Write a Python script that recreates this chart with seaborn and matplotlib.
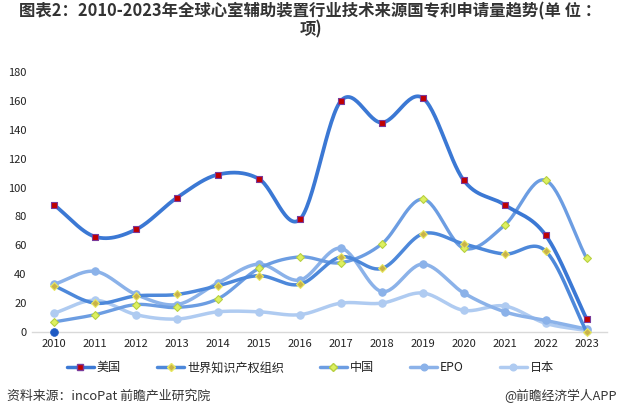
import numpy as np
import pandas as pd
import matplotlib
matplotlib.use("Agg")
import matplotlib.pyplot as plt
from matplotlib.lines import Line2D
import seaborn as sns

years = list(range(2010, 2024))
usa = [88, 66, 71, 93, 109, 106, 78, 160, 145, 162, 105, 88, 67, 9]
wipo = [32, 20, 25, 26, 32, 39, 33, 52, 44, 68, 61, 54, 56, 0]
china = [7, 12, 19, 17, 23, 44, 52, 48, 61, 92, 58, 74, 105, 51]
epo = [33, 42, 26, 19, 34, 47, 36, 58, 28, 47, 27, 14, 8, 2]
japan = [13, 22, 12, 9, 14, 14, 12, 20, 20, 27, 15, 18, 6, 1]
series_names = ["美国", "世界知识产权组织", "中国", "EPO", "日本"]
extra_year = [2010]
extra_value = [0]
y_ticks = [0, 20, 40, 60, 80, 100, 120, 140, 160, 180]

title = "图表2：2010-2023年全球心室辅助装置行业技术来源国专利申请量趋势(单 位 ：\n项)"
source = "资料来源：incoPat 前瞻产业研究院"
credit = "@前瞻经济学人APP"

sns.set_theme(style="white")
plt.rcParams["font.family"] = ["Noto Sans CJK SC", "DejaVu Sans"]


def smooth(xs, ys, n=30):
    xs = np.asarray(xs, float)
    ys = np.asarray(ys, float)
    P = np.column_stack([xs, ys])
    m = np.zeros_like(P)
    m[1:-1] = (P[2:] - P[:-2]) / 2.0
    m[0] = P[1] - P[0]
    m[-1] = P[-1] - P[-2]
    out = []
    t = np.linspace(0, 1, n, endpoint=False)[:, None]
    h00 = 2 * t**3 - 3 * t**2 + 1
    h10 = t**3 - 2 * t**2 + t
    h01 = -2 * t**3 + 3 * t**2
    h11 = t**3 - t**2
    for i in range(len(P) - 1):
        seg = h00 * P[i] + h10 * m[i] + h01 * P[i + 1] + h11 * m[i + 1]
        out.append(seg)
    out.append(P[-1:])
    out = np.vstack(out)
    return out[:, 0], out[:, 1]


values = [usa, wipo, china, epo, japan]
line_colors = ["#3B78D4", "#4D88DA", "#6C9DE2", "#8BB2E9", "#AFCBF1"]
line_widths = [2.7, 2.5, 2.4, 2.5, 2.5]
markers = ["s", "D", "D", "o", "o"]
mfaces = ["#C00000", "#C9B24A", "#DDF060", "#8BB2E9", "#AFCBF1"]
medges = ["#7A3A9A", "#E8E860", "#B8D040", "#8BB2E9", "#AFCBF1"]
msizes = [24, 16, 16, 28, 28]
zorders = [10, 8, 7, 6, 5]

fig = plt.figure(figsize=(6.21, 4.19), dpi=100)
ax = fig.add_axes([0.0515, 0.2076, 0.9255, 0.6205])

for vals, name, lc, lw, mk, mf, me, ms, zo in zip(values, series_names, line_colors,
                                                   line_widths, markers, mfaces, medges,
                                                   msizes, zorders):
    sx, sy = smooth(years, vals)
    dense = pd.DataFrame({"year": sx, "value": sy})
    sns.lineplot(data=dense, x="year", y="value", ax=ax, color=lc, linewidth=lw,
                 sort=False, estimator=None, zorder=zo, solid_capstyle="round")
    pts = pd.DataFrame({"year": years, "value": vals})
    sns.scatterplot(data=pts, x="year", y="value", ax=ax, marker=mk, s=ms,
                    color=mf, edgecolor=me, linewidth=0.8, zorder=zo + 0.5,
                    clip_on=False)

sns.scatterplot(x=extra_year, y=extra_value, ax=ax, color="#1F5BC4", s=32,
                edgecolor="#1F5BC4", zorder=12, clip_on=False)

ax.set_xlim(years[0] - 0.54, years[-1] + 0.49)
ax.set_ylim(0, 180)
ax.set_xticks(years)
ax.set_xticklabels([str(y) for y in years], fontsize=8, color="#222222")
ax.set_yticks(y_ticks)
ax.set_yticklabels([str(v) for v in y_ticks], fontsize=8, color="#222222")
ax.tick_params(axis="x", length=0, pad=5)
ax.tick_params(axis="y", length=0, pad=4)
ax.set_xlabel("")
ax.set_ylabel("")
for s in ["top", "right", "left"]:
    ax.spines[s].set_visible(False)
ax.spines["bottom"].set_color("#D9D9D9")
ax.spines["bottom"].set_linewidth(1.0)
ax.grid(False)

handles = []
for lc, mk, mf, me, ms in zip(line_colors, markers, mfaces, medges, msizes):
    handles.append(Line2D([0], [0], color=lc, linewidth=2.5, marker=mk,
                          markerfacecolor=mf, markeredgecolor=me,
                          markersize=np.sqrt(ms) * 0.9))
fig.legend(handles, series_names, loc="center", bbox_to_anchor=(0.5, 0.122),
           ncol=5, frameon=False, fontsize=8.7, handlelength=2.2,
           columnspacing=3.0, handletextpad=0.25, labelcolor="#222222")

fig.text(0.5, 0.952, title, ha="center", va="center", fontsize=11.8,
         fontweight="bold", color="#333333", linespacing=1.0)
fig.text(0.012, 0.055, source, ha="left", va="center", fontsize=9.3, color="#333333")
fig.text(0.994, 0.055, credit, ha="right", va="center", fontsize=9.2, color="#333333")

fig.savefig("out.png", dpi=100)
